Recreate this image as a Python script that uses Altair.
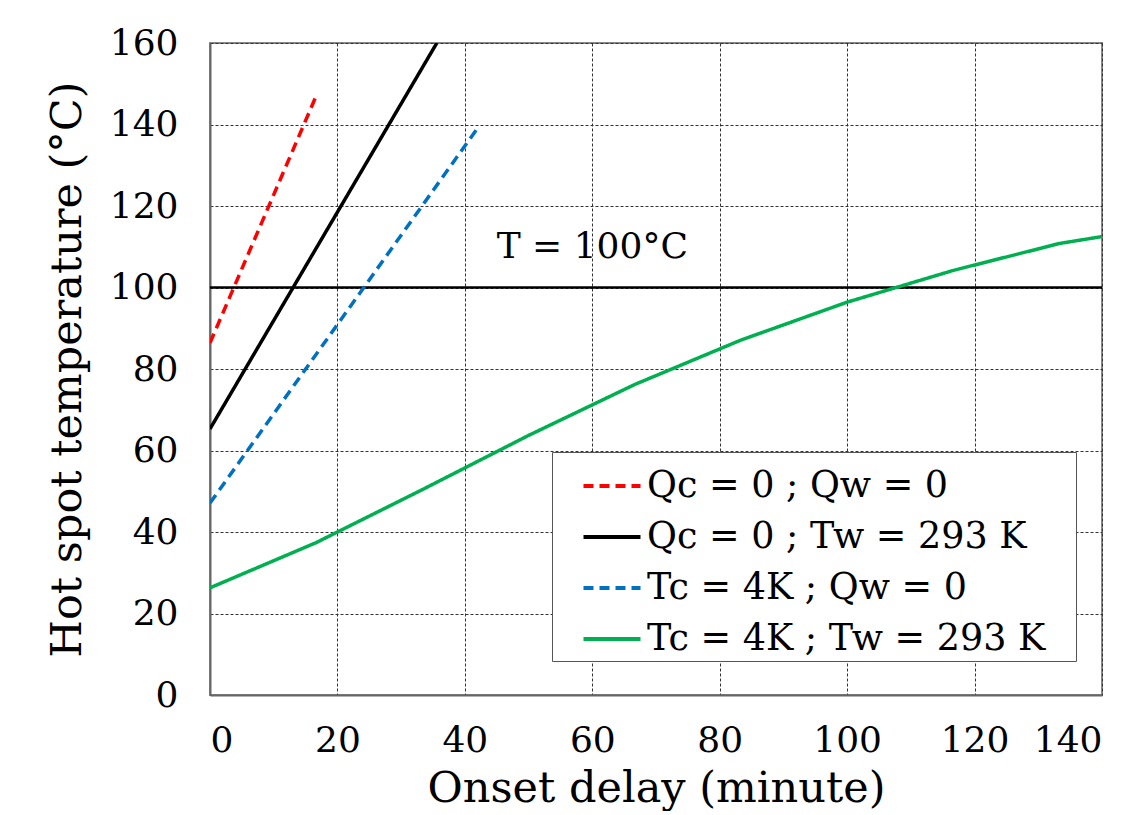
import altair as alt
import pandas as pd

series_names = [
    "Qc = 0 ; Qw = 0",
    "Qc = 0 ; Tw = 293 K",
    "Tc = 4K ; Qw = 0",
    "Tc = 4K ; Tw = 293 K",
]
series_colors = ["#FF0000", "#000000", "#0070C0", "#00B050"]
series_dash = [[10, 6], [1, 0], [10, 6], [1, 0]]

red_x = [0, 16.8]
red_y = [86.4, 147.5]

black_x = [0, 35.6]
black_y = [65.3, 160.0]

blue_x = [0, 41.9]
blue_y = [47.1, 138.9]

green_x = [0, 16.67, 33.33, 50, 66.67, 83.33, 100, 116.67, 133.33, 140]
green_y = [26.3, 37.4, 50.4, 63.7, 76.2, 87.1, 96.4, 104.2, 110.8, 112.5]

threshold = 100
threshold_label = "T = 100°C"
label_x, label_y = 60, 110

x_ticks = list(range(0, 141, 20))
y_ticks = list(range(0, 161, 20))

rows = []
for name, xs, ys in zip(series_names,
                        [red_x, black_x, blue_x, green_x],
                        [red_y, black_y, blue_y, green_y]):
    for i, (a, b) in enumerate(zip(xs, ys)):
        rows.append({"series": name, "t": a, "T": b, "order": i})
df = pd.DataFrame(rows)

FONT = "DejaVu Serif"
W, H = 892, 652

xscale = alt.Scale(domain=[0, 140], nice=False)
yscale = alt.Scale(domain=[0, 160], nice=False)

base_x = alt.X("t:Q", scale=xscale,
               axis=alt.Axis(values=x_ticks, title="Onset delay (minute)"))
base_y = alt.Y("T:Q", scale=yscale,
               axis=alt.Axis(values=y_ticks, title="Hot spot temperature (°C)"))

thr = alt.Chart(pd.DataFrame({"T": [threshold]})).mark_rule(
    color="black", strokeWidth=2.5
).encode(y=alt.Y("T:Q", scale=yscale))

leg = alt.Legend(title=None, orient="none", legendX=342, legendY=409,
                 labelExpr="datum.label + '\u2800'")

lines = alt.Chart(df).mark_line(strokeWidth=3.5, clip=True).encode(
    x=base_x,
    y=base_y,
    order="order:Q",
    color=alt.Color("series:N",
                    scale=alt.Scale(domain=series_names, range=series_colors),
                    sort=series_names, legend=leg),
    strokeDash=alt.StrokeDash("series:N",
                              scale=alt.Scale(domain=series_names, range=series_dash),
                              sort=series_names, legend=leg),
)

txt = alt.Chart(pd.DataFrame({"t": [label_x], "T": [label_y], "s": [threshold_label]})).mark_text(
    font=FONT, fontSize=36, baseline="middle", align="center", color="black"
).encode(x=alt.X("t:Q", scale=xscale), y=alt.Y("T:Q", scale=yscale), text="s:N")

chart = alt.layer(thr, lines, txt).properties(
    width=W, height=H,
    autosize=alt.AutoSizeParams(type="none"),
    padding={"left": 202, "top": 35, "right": 36, "bottom": 116},
).configure_view(
    stroke="#888888", strokeWidth=2
).configure_axis(
    labelFont=FONT, titleFont=FONT, labelFontSize=36, titleFontSize=43,
    labelColor="black", titleColor="black", titleFontWeight="normal",
    grid=True, gridColor="#333333", gridDash=[3, 2], gridWidth=1,
    domainColor="#666666", domainWidth=2, ticks=False,
).configure_axisY(
    labelPadding=32, titlePadding=20,
).configure_axisX(
    labelPadding=28, titlePadding=9,
).configure_legend(
    labelFont=FONT, labelFontSize=36.5, labelColor="black",
    symbolType="stroke", symbolSize=3250, symbolStrokeWidth=4,
    fillColor="white", strokeColor="#555555",
    padding=3, rowPadding=1, labelOffset=4, labelLimit=900,
    symbolOffset=26,
)

chart.save("out.html", embed_options={"renderer": "svg", "actions": False})
